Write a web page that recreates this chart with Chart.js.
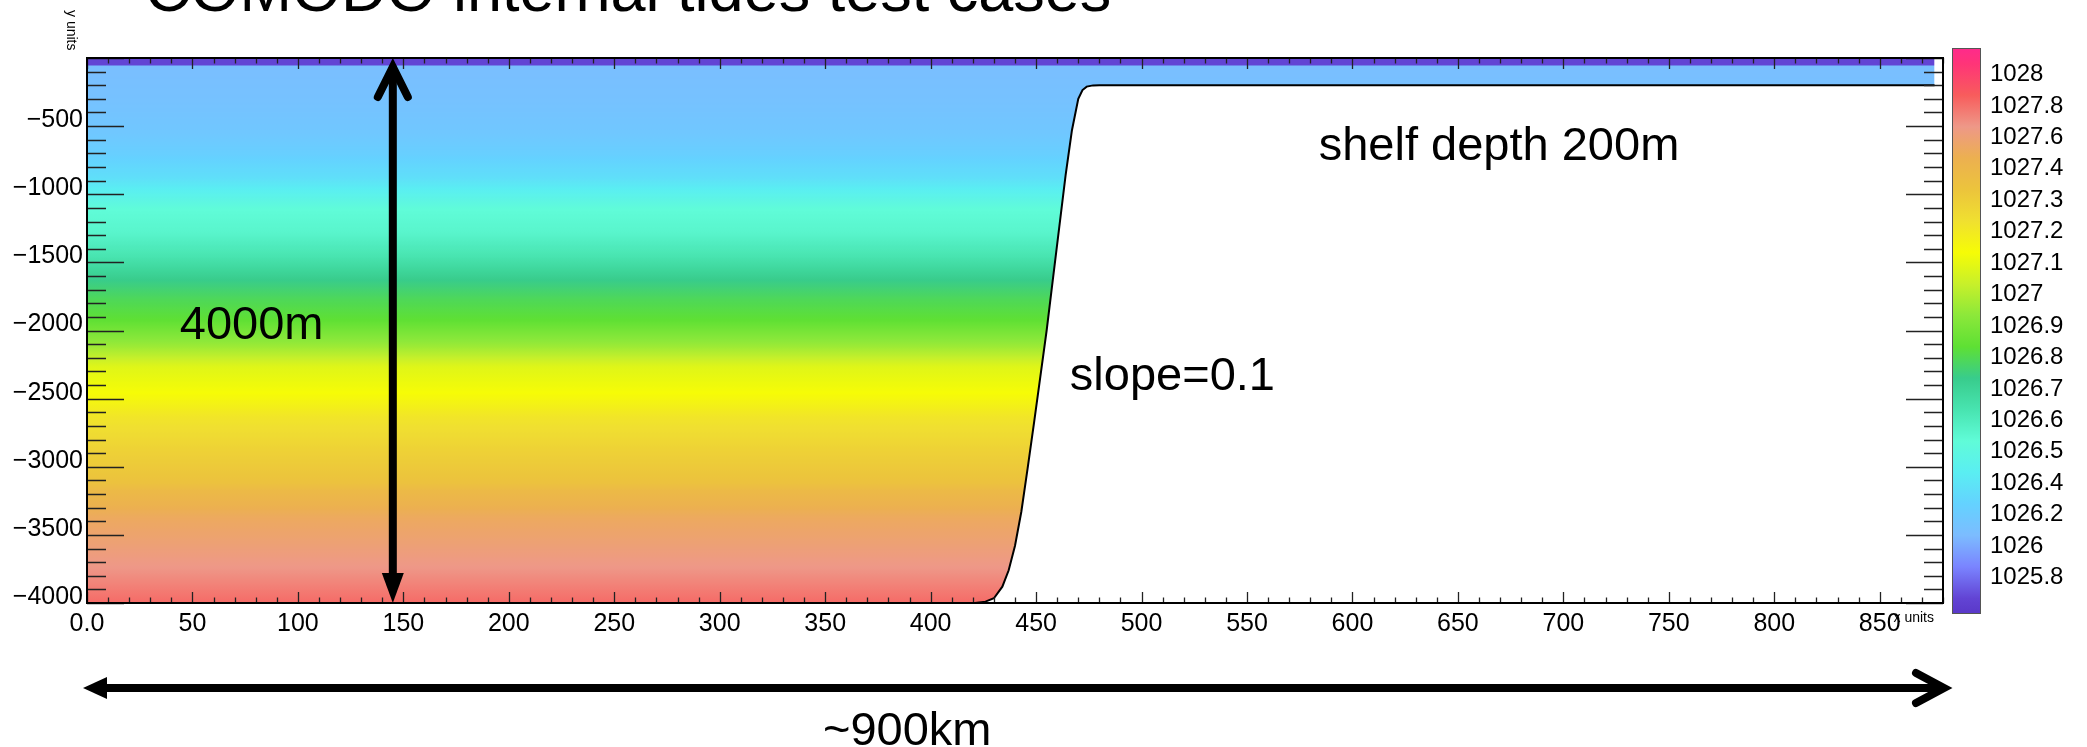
<!DOCTYPE html>
<html>
<head>
<meta charset="utf-8">
<script src="https://cdn.jsdelivr.net/npm/chart.js@4.4.1/dist/chart.umd.min.js"></script>
<style>
  html, body { margin: 0; padding: 0; background: #fff; }
  #wrap { position: relative; width: 2087px; height: 747px; overflow: hidden; }
  #main { position: absolute; left: 0; top: 0; }
  #cbar { position: absolute; left: 1940px; top: 0; }
</style>
</head>
<body>
<div id="wrap">
  <canvas id="main" width="2087" height="747"></canvas>
  <canvas id="cbar" width="147" height="747"></canvas>
</div>
<script>
// bathymetry: distance (km) and bottom depth (m)
const bathyX     = [0, 421, 426, 430, 434, 437, 440, 443, 446, 449, 452, 455, 458, 461, 464, 467, 470, 472, 474, 477, 480, 876];
const bathyDepth = [-4000, -4000, -3990, -3965, -3880, -3760, -3580, -3330, -3010, -2680, -2340, -2000, -1620, -1240, -860, -530, -300, -235, -210, -201, -200, -200];

// density profile
const profileDepth   = [0, -50, -60, -300, -550, -700, -915, -1113, -1282, -1458, -1627, -1775, -1921, -2120, -2267, -2458, -2634, -2876, -3119, -3369, -3611, -3736, -4000];
const profileDensity = [1025.7, 1025.7, 1026.12, 1026.15, 1026.2, 1026.27, 1026.42, 1026.55, 1026.58, 1026.65, 1026.75, 1026.81, 1026.85, 1026.98, 1027.1, 1027.15, 1027.23, 1027.3, 1027.36, 1027.55, 1027.65, 1027.7, 1027.85];

// colour bar levels (bottom to top) and band colours
const levelValues = [1025.8, 1026, 1026.2, 1026.4, 1026.5, 1026.6, 1026.7, 1026.8, 1026.9, 1027, 1027.1, 1027.2, 1027.3, 1027.4, 1027.6, 1027.8, 1028];
const levelLabels = ['1025.8', '1026', '1026.2', '1026.4', '1026.5', '1026.6', '1026.7', '1026.8', '1026.9', '1027', '1027.1', '1027.2', '1027.3', '1027.4', '1027.6', '1027.8', '1028'];
const paletteColors = ['#6244d4', '#7a84ff', '#7cbcff', '#64d2ff', '#5aeef2', '#60fcd8', '#48e4b0', '#38cc8c', '#5ee034', '#8ce83a',
                       '#c8f02a', '#f6fc06', '#f0e030', '#ecc43c', '#ecb050', '#ee9888', '#f85c5c', '#ff3478'];

// axis ticks
const xTicks = [0, 50, 100, 150, 200, 250, 300, 350, 400, 450, 500, 550, 600, 650, 700, 750, 800, 850];
const xTickLabels = ['0.0', '50', '100', '150', '200', '250', '300', '350', '400', '450', '500', '550', '600', '650', '700', '750', '800', '850'];
const yTicks = [-4000, -3500, -3000, -2500, -2000, -1500, -1000, -500];
const yTickLabels = ['\u22124000', '\u22123500', '\u22123000', '\u22122500', '\u22122000', '\u22121500', '\u22121000', '\u2212500'];

Chart.defaults.font.family = "'Liberation Sans', Arial, sans-serif";
Chart.defaults.color = '#000';

function hexRgb(h) {
  return [parseInt(h.slice(1, 3), 16), parseInt(h.slice(3, 5), 16), parseInt(h.slice(5, 7), 16)];
}
function mix(a, b, u) {
  const A = hexRgb(a), B = hexRgb(b);
  const c = A.map((v, i) => Math.round(v + (B[i] - v) * u));
  return 'rgb(' + c.join(',') + ')';
}

// density -> position on the colour bar (0 bottom, 1 top)
function densityToT(rho) {
  const n = levelValues.length + 1;
  const ext = [levelValues[0] - 0.2].concat(levelValues, [levelValues[levelValues.length - 1] + 0.2]);
  if (rho <= ext[0]) return 0;
  for (let j = 0; j < ext.length - 1; j++) {
    if (rho <= ext[j + 1]) return (j + (rho - ext[j]) / (ext[j + 1] - ext[j])) / n;
  }
  return 1;
}
function tToColor(t) {
  const n = paletteColors.length;
  const f = t * n - 0.5;
  if (f <= 0) return mix(paletteColors[0], paletteColors[0], 0);
  if (f >= n - 1) return mix(paletteColors[n - 1], paletteColors[n - 1], 0);
  const k = Math.floor(f);
  return mix(paletteColors[k], paletteColors[k + 1], f - k);
}
function densityAt(d) {
  for (let i = 0; i < profileDepth.length - 1; i++) {
    if (d <= profileDepth[i] && d >= profileDepth[i + 1]) {
      const u = (profileDepth[i] - d) / (profileDepth[i] - profileDepth[i + 1]);
      return profileDensity[i] + (profileDensity[i + 1] - profileDensity[i]) * u;
    }
  }
  return profileDensity[profileDensity.length - 1];
}

function waterGradient(ctx) {
  const chart = ctx.chart;
  const area = chart.chartArea;
  if (!area) return null;
  const ys = chart.scales.y;
  const g = chart.ctx.createLinearGradient(0, area.top, 0, area.bottom);
  for (let d = 0; d >= -4000; d -= 10) {
    const py = ys.getPixelForValue(d);
    const t = Math.min(1, Math.max(0, (py - area.top) / (area.bottom - area.top)));
    g.addColorStop(t, tToColor(densityToT(densityAt(d))));
  }
  return g;
}

function arrowOpen(c, tipX, tipY, dirX, dirY, len, half) {
  // open V head, tip pointing along (dirX, dirY)
  const px = -dirY, py = dirX;
  const vx = tipX - dirX * 9, vy = tipY - dirY * 9;
  c.beginPath();
  c.moveTo(vx - dirX * len + px * half, vy - dirY * len + py * half);
  c.lineTo(vx, vy);
  c.lineTo(vx - dirX * len - px * half, vy - dirY * len - py * half);
  c.stroke();
}
function arrowFilled(c, tipX, tipY, dirX, dirY, len, half) {
  const px = -dirY, py = dirX;
  c.beginPath();
  c.moveTo(tipX, tipY);
  c.lineTo(tipX - dirX * len + px * half, tipY - dirY * len + py * half);
  c.lineTo(tipX - dirX * len - px * half, tipY - dirY * len - py * half);
  c.closePath();
  c.fill();
}

const decorPlugin = {
  id: 'decor',
  afterDraw(chart) {
    const c = chart.ctx;
    const a = chart.chartArea;
    const xs = chart.scales.x, ys = chart.scales.y;
    c.save();

    // inward ticks on all four sides
    c.strokeStyle = '#222';
    c.lineWidth = 1.3;
    c.beginPath();
    for (let v = 0; v <= 880; v += 10) {
      const px = Math.round(xs.getPixelForValue(v)) + 0.5;
      const len = v % 50 === 0 ? 11 : 5.5;
      c.moveTo(px, a.bottom); c.lineTo(px, a.bottom - len);
      c.moveTo(px, a.top); c.lineTo(px, a.top + len);
    }
    for (let v = -4000; v <= 0; v += 100) {
      const py = Math.round(ys.getPixelForValue(v)) + 0.5;
      const len = v % 500 === 0 ? 37 : 19;
      c.moveTo(a.left, py); c.lineTo(a.left + len, py);
      c.moveTo(a.right, py); c.lineTo(a.right - len, py);
    }
    c.stroke();

    // frame
    c.strokeStyle = '#000';
    c.lineWidth = 2;
    c.strokeRect(a.left, a.top, a.right - a.left, a.bottom - a.top);

    // title (mostly cut by the top edge)
    c.fillStyle = '#000';
    c.font = "63px 'Liberation Sans', Arial, sans-serif";
    c.textAlign = 'left';
    c.textBaseline = 'alphabetic';
    c.fillText('COMODO internal tides test cases', 145, 11);

    // axis titles
    c.font = "14px 'Liberation Sans', Arial, sans-serif";
    c.save();
    c.translate(a.left - 20, 10);
    c.rotate(Math.PI / 2);
    c.fillText('y units', 0, 0);
    c.restore();
    c.textAlign = 'right';
    c.fillText('x units', a.right - 9, a.bottom + 19);

    // annotations inside the plot
    c.textAlign = 'left';
    c.font = "47px 'Liberation Sans', Arial, sans-serif";
    c.fillText('4000m', xs.getPixelForValue(44), ys.getPixelForValue(-2060));
    c.fillText('shelf depth 200m', xs.getPixelForValue(584), ys.getPixelForValue(-750));
    c.fillText('slope=0.1', xs.getPixelForValue(466), ys.getPixelForValue(-2436));
    c.fillText('~900km', 823, a.bottom + 142);

    // vertical double arrow at 145 km
    const ax = xs.getPixelForValue(145);
    const yTop = ys.getPixelForValue(0), yBot = ys.getPixelForValue(-4000);
    c.strokeStyle = '#000';
    c.lineWidth = 8;
    c.lineCap = 'round';
    c.lineJoin = 'miter';
    c.beginPath();
    c.moveTo(ax, yTop + 10); c.lineTo(ax, yBot - 26);
    c.stroke();
    arrowOpen(c, ax, yTop, 0, -1, 30, 15);
    arrowFilled(c, ax, yBot, 0, 1, 30, 11);

    // horizontal double arrow below the axis
    const hy = a.bottom + 85;
    const hl = a.left - 4, hr = a.right + 10;
    c.beginPath();
    c.lineCap = 'butt';
    c.moveTo(hl + 20, hy); c.lineTo(hr - 9, hy);
    c.stroke();
    c.lineCap = 'round';
    arrowFilled(c, hl, hy, -1, 0, 24, 11);
    arrowOpen(c, hr, hy, 1, 0, 28, 15);

    c.restore();
  }
};

new Chart(document.getElementById('main'), {
  type: 'line',
  data: {
    datasets: [{
      data: bathyX.map((x, i) => ({ x: x, y: bathyDepth[i] })),
      borderColor: '#000',
      borderWidth: 2,
      pointRadius: 0,
      tension: 0,
      fill: 'end',
      backgroundColor: waterGradient
    }]
  },
  options: {
    responsive: false,
    animation: false,
    devicePixelRatio: 1,
    layout: { padding: { top: 58, right: 144, left: 0, bottom: 0 } },
    plugins: { legend: { display: false }, tooltip: { enabled: false } },
    scales: {
      x: {
        type: 'linear', min: 0, max: 880,
        afterBuildTicks: s => { s.ticks = xTicks.map(v => ({ value: v })); },
        afterFit: s => { s.height = 144; },
        ticks: { callback: (v, i) => xTickLabels[i], autoSkip: false, maxRotation: 0, padding: 6, font: { size: 25 } },
        grid: { display: false, drawTicks: false },
        border: { display: false }
      },
      y: {
        type: 'linear', min: -4000, max: 0,
        afterBuildTicks: s => { s.ticks = yTicks.map(v => ({ value: v })); },
        afterFit: s => { s.width = 87; },
        ticks: { callback: (v, i) => yTickLabels[i], autoSkip: false, padding: 4, labelOffset: -6, font: { size: 25 } },
        grid: { display: false, drawTicks: false },
        border: { display: false }
      }
    }
  },
  plugins: [decorPlugin]
});

// colour bar as a stacked bar chart
function barGradient(ctx) {
  const chart = ctx.chart;
  const area = chart.chartArea;
  if (!area) return null;
  const g = chart.ctx.createLinearGradient(0, area.bottom, 0, area.top);
  const n = paletteColors.length;
  g.addColorStop(0, '#5a38c8');
  paletteColors.forEach((col, k) => g.addColorStop((k + 0.5) / n, col));
  g.addColorStop(1, '#ff2a8c');
  return g;
}

const outlinePlugin = {
  id: 'outline',
  afterDraw(chart) {
    const a = chart.chartArea;
    const c = chart.ctx;
    c.save();
    c.strokeStyle = '#555';
    c.lineWidth = 1;
    c.strokeRect(a.left + 0.5, a.top + 0.5, a.right - a.left - 1, a.bottom - a.top - 1);
    c.restore();
  }
};

new Chart(document.getElementById('cbar'), {
  type: 'bar',
  data: {
    labels: [''],
    datasets: paletteColors.map(() => ({
      data: [1],
      backgroundColor: barGradient,
      borderWidth: 0,
      barPercentage: 1,
      categoryPercentage: 1
    }))
  },
  options: {
    responsive: false,
    animation: false,
    devicePixelRatio: 1,
    layout: { padding: { left: 12, top: 48, bottom: 133, right: 0 } },
    plugins: { legend: { display: false }, tooltip: { enabled: false } },
    scales: {
      x: { display: false, stacked: true },
      y: {
        stacked: true, position: 'right', min: 0, max: paletteColors.length, z: 1,
        afterBuildTicks: s => { s.ticks = levelValues.map((v, i) => ({ value: i + 1 })); },
        afterFit: s => { s.width = 106; },
        ticks: { callback: (v, i) => levelLabels[i], autoSkip: false, padding: 9, labelOffset: -5, font: { size: 24 } },
        grid: { color: '#333', lineWidth: 1, drawTicks: false },
        border: { display: false }
      }
    }
  },
  plugins: [outlinePlugin]
});
</script>
</body>
</html>
